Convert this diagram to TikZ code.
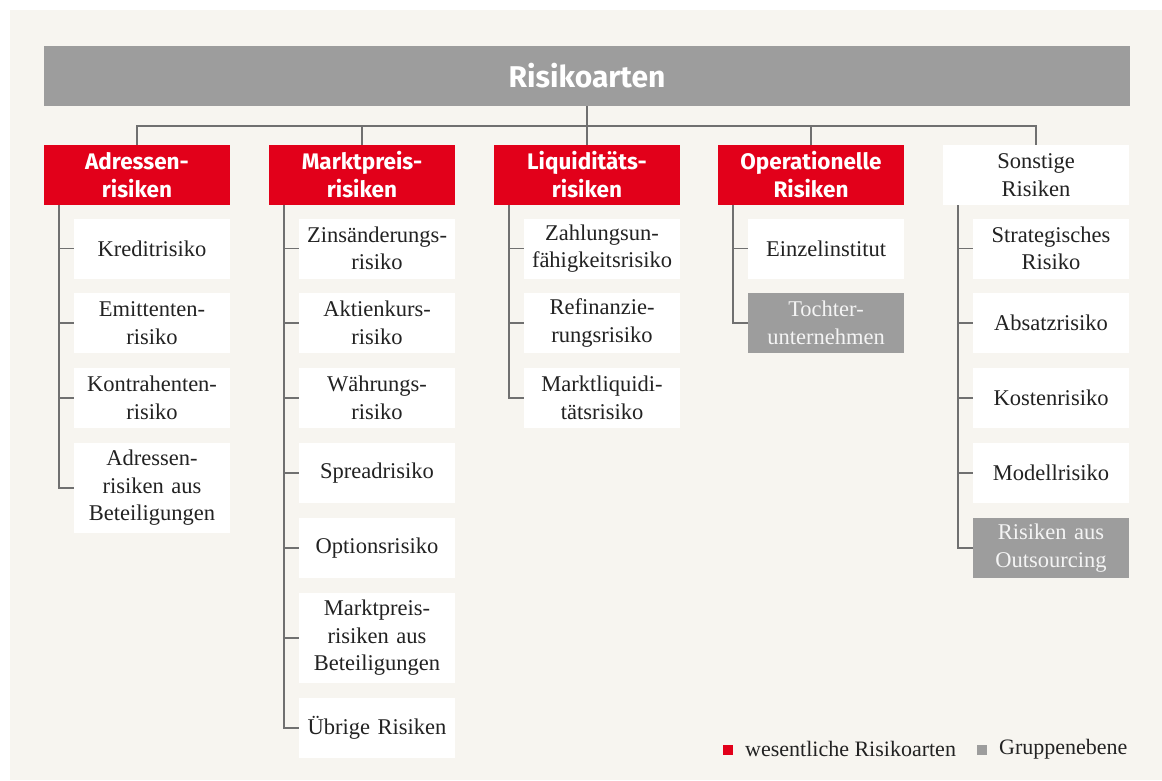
\documentclass[tikz,border=0pt]{standalone}
\usepackage{fontspec}
\setmainfont{Liberation Serif}
\setsansfont{Fira Sans}
\usetikzlibrary{positioning}
\definecolor{rkred}{HTML}{E2001A}
\definecolor{rkgray}{HTML}{9D9D9D}
\definecolor{rkline}{HTML}{707070}
\definecolor{rkpanel}{HTML}{F7F5F0}
\definecolor{rkpale}{HTML}{F4F4F4}
\definecolor{rktext}{HTML}{222222}

\begin{document}
\begin{tikzpicture}[x=1pt,y=-1pt,
  titlebox/.style={fill=rkgray,text=white,minimum width=1086pt,minimum height=60pt,inner sep=0pt,font=\sffamily\bfseries\fontsize{30}{34}\selectfont},
  catbox/.style={fill=rkred,text=white,minimum width=186pt,minimum height=60pt,text width=180pt,align=center,inner sep=0pt,font=\sffamily\bfseries\fontsize{22.5}{28}\selectfont},
  othbox/.style={fill=white,text=rktext,minimum width=186pt,minimum height=60pt,text width=180pt,align=center,inner sep=0pt,font=\fontsize{22.5}{27.5}\selectfont},
  subbox/.style={fill=white,text=rktext,minimum width=156pt,minimum height=60pt,text width=154pt,align=center,inner sep=0pt,font=\fontsize{22.5}{27.5}\selectfont},
  grpbox/.style={subbox,fill=rkgray,text=rkpale},
  tall/.style={minimum height=90pt},
  wire/.style={draw=rkline,line width=1.4pt},
  legsq/.style={minimum size=10pt,inner sep=0pt}]
\useasboundingbox (0,0) rectangle (1162,780);
\fill[white] (0,0) rectangle (1162,780);
\fill[rkpanel] (10,10) rectangle (1162,780);
% Drawing boxes
\node[titlebox] (title) at (587,76) {Risikoarten};
\node[catbox] (adr) at (137,175) {Adressen-\\risiken};
\node[catbox] (mkt) at (362,175) {Marktpreis-\\risiken};
\node[catbox] (liq) at (587,175) {Liquiditäts-\\risiken};
\node[catbox] (ops) at (811,175) {Operationelle\\Risiken};
\node[othbox] (son) at (1036,175) {Sonstige\\Risiken};
% Adressenrisiken
\node[subbox] (adr1) at (152,248.5) {Kreditrisiko};
\node[subbox] (adr2) at (152,323) {Emittenten-\\risiko};
\node[subbox] (adr3) at (152,398) {Kontrahenten-\\risiko};
\node[subbox,tall] (adr4) at (152,488) {Adressen-\\risiken aus\\Beteiligungen};
% Marktpreisrisiken
\node[subbox] (mkt1) at (377,248.5) {Zinsänderungs-\\risiko};
\node[subbox] (mkt2) at (377,323) {Aktienkurs-\\risiko};
\node[subbox] (mkt3) at (377,398) {Währungs-\\risiko};
\node[subbox] (mkt4) at (377,473) {Spreadrisiko};
\node[subbox] (mkt5) at (377,548) {Optionsrisiko};
\node[subbox,tall] (mkt6) at (377,638) {Marktpreis-\\risiken aus\\Beteiligungen};
\node[subbox] (mkt7) at (377,728) {Übrige Risiken};
% Liquiditaetsrisiken
\node[subbox] (liq1) at (602,248.5) {Zahlungsun-\\fähigkeitsrisiko};
\node[subbox] (liq2) at (602,323) {Refinanzie-\\rungsrisiko};
\node[subbox] (liq3) at (602,398) {Marktliquidi-\\tätsrisiko};
% Operationelle Risiken
\node[subbox] (ops1) at (826,248.5) {Einzelinstitut};
\node[grpbox] (ops2) at (826,323) {Tochter-\\unternehmen};
% Sonstige Risiken
\node[subbox] (son1) at (1051,248.5) {Strategisches\\Risiko};
\node[subbox] (son2) at (1051,323) {Absatzrisiko};
\node[subbox] (son3) at (1051,398) {Kostenrisiko};
\node[subbox] (son4) at (1051,473) {Modellrisiko};
\node[grpbox] (son5) at (1051,548) {Risiken aus\\Outsourcing};
% Done with boxes; drawing lines
\coordinate (bus) at (587,126);
\draw[wire] (title.south) -- (bus);
\foreach \c in {adr,mkt,liq,ops,son}
  \draw[wire] (bus) -| (\c.north);
\foreach \s in {adr1,adr2,adr3,adr4}
  \draw[wire] ([xshift=15pt]adr.south west) |- (\s.west);
\foreach \s in {mkt1,mkt2,mkt3,mkt4,mkt5,mkt6,mkt7}
  \draw[wire] ([xshift=15pt]mkt.south west) |- (\s.west);
\foreach \s in {liq1,liq2,liq3}
  \draw[wire] ([xshift=15pt]liq.south west) |- (\s.west);
\foreach \s in {ops1,ops2}
  \draw[wire] ([xshift=15pt]ops.south west) |- (\s.west);
\foreach \s in {son1,son2,son3,son4,son5}
  \draw[wire] ([xshift=15pt]son.south west) |- (\s.west);
% Done with lines; drawing legend
\node[legsq,fill=rkred] (keyred) at (728,750) {};
\node[anchor=west,text=rktext,font=\fontsize{22}{24}\selectfont,inner sep=0pt] (keyredtxt) at (745,749) {wesentliche Risikoarten};
\node[legsq,fill=rkgray] (keygray) at (982,750) {};
\node[anchor=west,text=rktext,font=\fontsize{22}{24}\selectfont,inner sep=0pt] (keygraytxt) at (999,749) {Gruppenebene};
\end{tikzpicture}
\end{document}
